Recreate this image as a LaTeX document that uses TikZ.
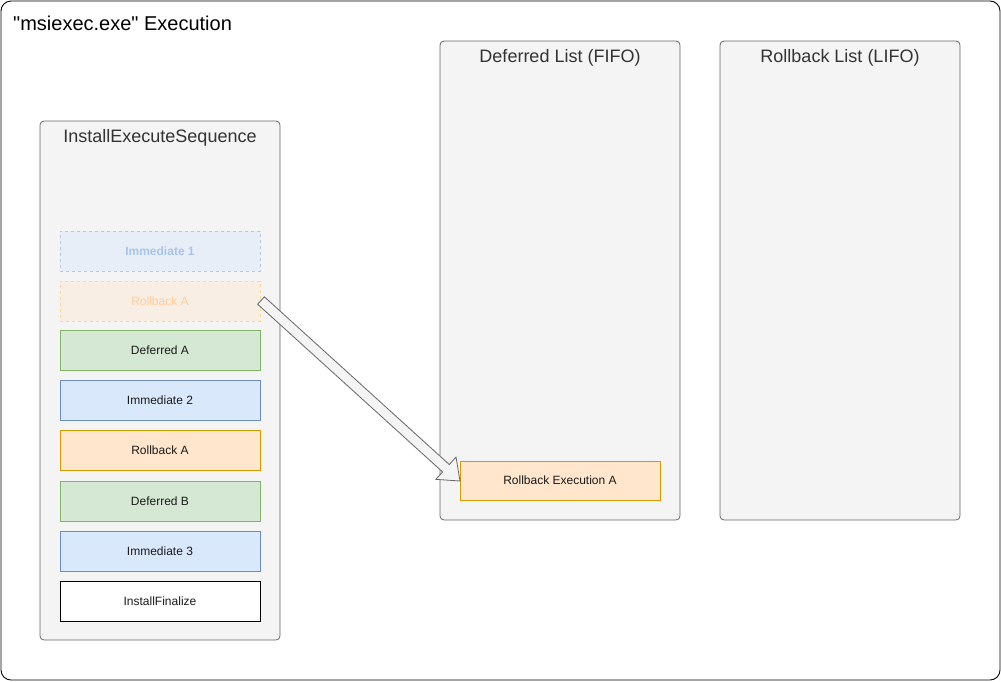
\documentclass[tikz,border=0pt]{standalone}
\usepackage{fontspec}
\setmainfont{Liberation Sans}
\newfontfamily\plainfont{Liberation Sans}
\usetikzlibrary{calc}
\definecolor{gfill}{HTML}{F4F4F4}
\definecolor{gdraw}{HTML}{666666}
\definecolor{ttext}{HTML}{333333}
\definecolor{bfill}{HTML}{DAE8FC}
\definecolor{bdraw}{HTML}{6C8EBF}
\definecolor{ofill}{HTML}{FFE6CC}
\definecolor{odraw}{HTML}{D79B00}
\definecolor{nfill}{HTML}{D5E8D4}
\definecolor{ndraw}{HTML}{82B366}
\definecolor{fbfill}{HTML}{E8EEF7}
\definecolor{fbdraw}{HTML}{B3C8E8}
\definecolor{fbtext}{HTML}{A9C4EB}
\definecolor{fofill}{HTML}{F9EEE4}
\definecolor{fodraw}{HTML}{FFD88F}
\definecolor{fotext}{HTML}{FFCC99}
\definecolor{btext}{HTML}{1A1A1A}
\tikzset{
  container/.style={draw=gdraw, fill=gfill, rounded corners=4pt, line width=0.8pt},
  ctitle/.style={text=ttext, font=\fontsize{18}{20}\selectfont, anchor=center},
  actbox/.style={minimum width=200pt, minimum height=40pt, inner sep=0pt, line width=0.8pt,
    font=\fontsize{12}{14}\selectfont, text=btext},
  blueb/.style={actbox, draw=bdraw, fill=bfill},
  orangeb/.style={actbox, draw=odraw, fill=ofill},
  greenb/.style={actbox, draw=ndraw, fill=nfill},
  whiteb/.style={actbox, draw=black, fill=white},
  fadeblue/.style={actbox, draw=fbdraw, fill=fbfill, text=fbtext, dashed, font=\bfseries\fontsize{12}{14}\selectfont},
  fadeorange/.style={actbox, draw=fodraw, fill=fofill, text=fotext, dashed},
  blockarrow/.style={draw=gdraw, fill=gfill, line width=0.8pt, line join=miter}
}
\begin{document}
\begin{tikzpicture}[x=1pt,y=-1pt]
\useasboundingbox (0,0) rectangle (1001,681);
% outer frame
\draw[rounded corners=10pt, line width=0.9pt, fill=white] (1,1) rectangle (1000,680);
\node[anchor=west, font=\plainfont\fontsize{20}{22}\selectfont, text=black, inner sep=0pt] (title) at (13,23) {"msiexec.exe" Execution};
% containers
\draw[container] (40,121) rectangle (280,640);
\node[ctitle] (seqt) at (160,138) {InstallExecuteSequence};
\draw[container] (440,41) rectangle (680,520);
\node[ctitle] (deft) at (560,58) {Deferred List (FIFO)};
\draw[container] (720,41) rectangle (960,520);
\node[ctitle] (rolt) at (840,58) {Rollback List (LIFO)};
% actions
\node[fadeblue] (imm1) at (160,251) {Immediate 1};
\node[fadeorange] (rba1) at (160,301) {Rollback A};
\node[greenb] (defa) at (160,350) {Deferred A};
\node[blueb] (imm2) at (160,400) {Immediate 2};
\node[orangeb] (rba2) at (160,450) {Rollback A};
\node[greenb] (defb) at (160,501) {Deferred B};
\node[blueb] (imm3) at (160,551) {Immediate 3};
\node[whiteb] (fin) at (160,601) {InstallFinalize};
\node[orangeb, minimum height=39pt] (rex) at (560,480.5) {Rollback Execution A};
% block arrow
\coordinate (ta) at (261,300.5);
\coordinate (hd) at (460,481);
\coordinate (hb) at ($(hd)!19pt!(ta)$);
\draw[blockarrow] ($(ta)!5pt!90:(hd)$) -- ($(hb)!5pt!90:(hd)$) -- ($(hb)!15pt!90:(hd)$) -- (hd)
  -- ($(hb)!15pt!-90:(hd)$) -- ($(hb)!5pt!-90:(hd)$) -- ($(ta)!5pt!-90:(hd)$) -- cycle;
\end{tikzpicture}
\end{document}
